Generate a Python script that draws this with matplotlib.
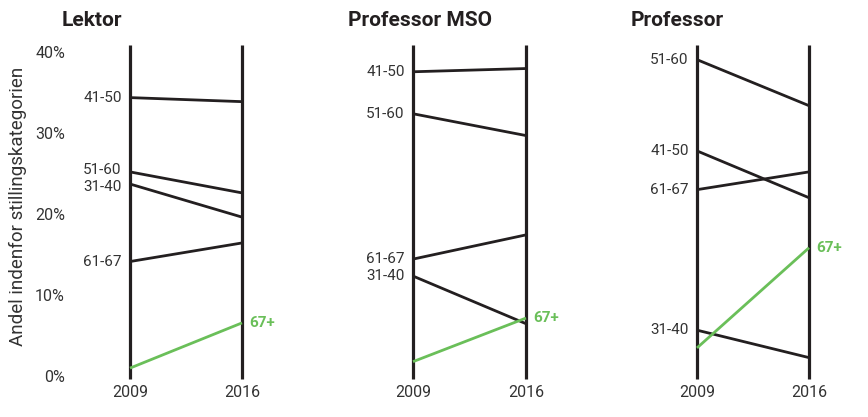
import matplotlib
matplotlib.use("Agg")
import matplotlib.pyplot as plt

plt.rcParams['font.family'] = ['Roboto', 'DejaVu Sans']

years = ["2009", "2016"]
panels = ["Lektor", "Professor MSO", "Professor"]
age_groups = ["31-40", "41-50", "51-60", "61-67", "67+"]

lektor_2009 = [23.9, 34.6, 25.4, 14.3, 1.1]
lektor_2016 = [19.8, 34.1, 22.8, 16.6, 6.7]
mso_2009 = [12.5, 37.8, 32.6, 14.6, 1.9]
mso_2016 = [6.6, 38.2, 29.9, 17.6, 7.3]
prof_2009 = [5.8, 28.0, 39.3, 23.2, 3.6]
prof_2016 = [2.4, 22.2, 33.6, 25.4, 16.0]

yticks = [0, 10, 20, 30, 40]
ytick_labels = ["0%", "10%", "20%", "30%", "40%"]
ylabel = "Andel indenfor stillingskategorien"

data = [(lektor_2009, lektor_2016), (mso_2009, mso_2016), (prof_2009, prof_2016)]

W, H = 868, 417
fig = plt.figure(figsize=(W / 100, H / 100), dpi=100)

dark = "#231f20"
text_c = "#333333"
green = "#6abf59"

lefts_px = [130, 413, 697]
rights_px = [242, 526, 809]
y0_px, y40_px = 377, 54
bottom = (H - y0_px) / H
height = (y0_px - y40_px) / H

# small vertical nudges (points) for crowded labels in the Lektor panel
nudge = {(0, "51-60"): 1.5, (0, "31-40"): -2.0}

for i, (name, (v09, v16)) in enumerate(zip(panels, data)):
    l = lefts_px[i] / W
    w = (rights_px[i] - lefts_px[i]) / W
    ax = fig.add_axes([l, bottom, w, height])
    ax.set_xlim(0, 1)
    ax.set_ylim(0, 40)
    for s in ax.spines.values():
        s.set_visible(False)
    ax.set_xticks([])
    ax.set_yticks([])
    ax.patch.set_alpha(0)
    # vertical year axes
    for x in (0, 1):
        ax.plot([x, x], [-0.25, 41.1], color=dark, lw=2.3, clip_on=False,
                solid_capstyle='butt', zorder=1)
    for g, a, b in zip(age_groups, v09, v16):
        col = green if g == "67+" else dark
        ax.plot([0, 1], [a, b], color=col, lw=2.0, clip_on=False,
                solid_capstyle='butt', zorder=2)
        if g == "67+":
            ax.annotate(g, xy=(1, b), xytext=(5, 0), textcoords='offset points',
                        ha='left', va='center', fontsize=11, fontweight='bold',
                        color=green, annotation_clip=False)
        else:
            dy = nudge.get((i, g), 0)
            ax.annotate(g, xy=(0, a), xytext=(-6, dy), textcoords='offset points',
                        ha='right', va='center', fontsize=11, color=text_c,
                        annotation_clip=False)
    for x, yr in zip((0, 1), years):
        ax.annotate(yr, xy=(x, 0), xytext=(0, -11.5), textcoords='offset points',
                    ha='center', va='center', fontsize=11.5, color=text_c,
                    annotation_clip=False)
    # title
    tx = [62, 348, 631][i] / W
    fig.text(tx, 1 - 21 / H, name, ha='left', va='center', fontsize=15,
             fontweight='bold', color=dark)
    if i == 0:
        for t, lab in zip(yticks, ytick_labels):
            ax.annotate(lab, xy=(0, t), xytext=(-65 * 0.72, 0),
                        textcoords='offset points', ha='right', va='center',
                        fontsize=11.5, color=text_c, annotation_clip=False)

fig.text(18 / W, 1 - 206 / H, ylabel, rotation=90, ha='center', va='center',
         fontsize=13.5, color=text_c)

fig.savefig("out.png", dpi=100, facecolor="white")
